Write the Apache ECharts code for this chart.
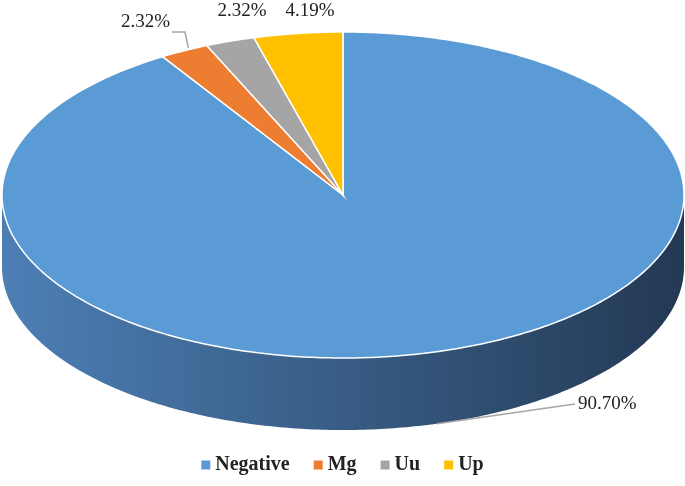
<!DOCTYPE html>
<html><head><meta charset="utf-8">
<script src="https://cdn.jsdelivr.net/npm/echarts@6/dist/echarts.min.js"></script>
<style>html,body{margin:0;padding:0;background:#fff}#c{width:685px;height:486px}</style>
</head><body><div id="c"></div>
<script>
const categories = ['Negative','Mg','Uu','Up'];
const values = [90.70, 2.32, 2.32, 4.19];
const labels = ['90.70%','2.32%','2.32%','4.19%'];
const colors = ['#5b9bd5','#ed7d31','#a5a5a5','#ffc000'];
const sideColors = [['#4d7fb5','#233954'],['#b35a1f','#8a4415'],['#7a7a7a','#5a5a5a'],['#bf9000','#8f6c00']];

const chart = echarts.init(document.getElementById('c'));
const total = values.reduce((a,b)=>a+b,0);
const starts = []; let acc = 0;
values.forEach(v=>{starts.push(acc/total*2*Math.PI); acc+=v;});
const CX=343, CY=195, RX=341, RY=163, D=72;
function pt(t,dy){return [CX+RX*Math.sin(t), CY-RY*Math.cos(t)+(dy||0)];}

function renderItem(params, api){
  const i = params.dataIndex;
  const t0 = starts[i], t1 = t0 + values[i]/total*2*Math.PI;
  const N = Math.max(4, Math.ceil((t1-t0)*80));
  const top = [[CX,CY]];
  for(let k=0;k<=N;k++) top.push(pt(t0+(t1-t0)*k/N));
  const children = [];
  const a = Math.max(t0, Math.PI/2), b = Math.min(t1, 3*Math.PI/2);
  if (b > a){
    const up=[], dn=[]; const M=Math.ceil((b-a)*80);
    for(let k=0;k<=M;k++){const t=a+(b-a)*k/M; up.push(pt(t)); dn.unshift(pt(t,D));}
    children.push({type:'polygon', shape:{points:up.concat(dn)},
      style:{fill:{type:'linear',x:0,y:0,x2:1,y2:0,colorStops:[{offset:0,color:sideColors[i][0]},{offset:1,color:sideColors[i][1]}]}}});
  }
  children.push({type:'polygon', shape:{points:top}, style:{fill:colors[i], stroke:'#fff', lineWidth:1.5}});
  const m=(t0+t1)/2;
  const font = '19px "Liberation Serif"';
  if (i===0){
    const p = pt(m, D);
    children.push({type:'polyline', shape:{points:[p,[575,404]]}, style:{stroke:'#a6a6a6',lineWidth:1.5,fill:null}});
    children.push({type:'text', style:{x:578,y:404,text:labels[i],font,fill:'#222',verticalAlign:'middle'}});
  } else if (i===1){
    const p = pt(m, 0);
    children.push({type:'polyline', shape:{points:[[p[0]+4,p[1]-3],[185,32],[172,32]]}, style:{stroke:'#a6a6a6',lineWidth:1.5,fill:null}});
    children.push({type:'text', style:{x:170,y:22,text:labels[i],font,fill:'#222',align:'right',verticalAlign:'middle'}});
  } else {
    const p = pt(m, 0);
    children.push({type:'text', style:{x:p[0]+12,y:11,text:labels[i],font,fill:'#222',align:'center',verticalAlign:'middle'}});
  }
  return {type:'group', children};
}

chart.setOption({
  animation:false,
  legend:{bottom:6, left:'center', itemWidth:9, itemHeight:9, itemGap:24, icon:'rect',
    textStyle:{fontFamily:'Liberation Serif', fontWeight:'bold', fontSize:20, color:'#222'}, data:categories},
  series:[
    {type:'pie', radius:[0,0], center:[-100,-100], label:{show:false}, silent:true,
     data:categories.map((n,i)=>({name:n,value:values[i],itemStyle:{color:colors[i]}}))},
    {type:'custom', coordinateSystem:'none', renderItem, data:values.map((v,i)=>[i,v])}
  ]
});
</script></body></html>
